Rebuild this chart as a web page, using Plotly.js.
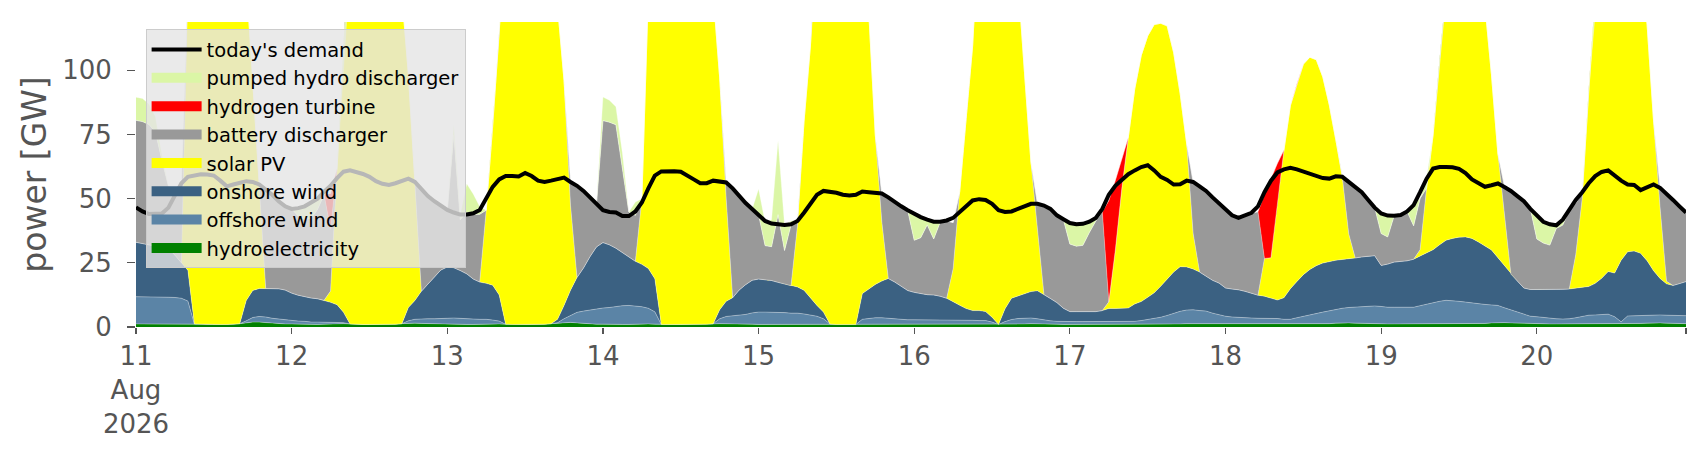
<!DOCTYPE html>
<html>
<head>
<meta charset="utf-8">
<script src="https://cdn.plot.ly/plotly-3.0.1.min.js"></script>
<style>
  html, body { margin: 0; padding: 0; background: #fff; }
  #chart { width: 1706px; height: 460px; }
</style>
</head>
<body>
<div id="chart"></div>
<script>
// hourly dispatch in GW, 11 Aug 2026 00:00 .. 20 Aug 2026 23:00, one row per day

const hydroelectricity = [
  1.2,1.2,1.1,1.1,1.1,1.1,1.2,1.2,1.3,1.2,1.1,1.0,1.0,1.0,1.0,1.1,1.3,1.6,1.9,1.9,1.7,1.5,1.3,1.2,
  1.2,1.1,1.1,1.0,1.0,1.1,1.2,1.3,1.3,1.2,1.0,1.0,1.0,1.0,1.0,1.0,1.1,1.3,1.5,1.5,1.4,1.3,1.2,1.2,
  1.1,1.1,1.0,1.0,1.0,1.1,1.2,1.2,1.2,1.1,1.0,1.0,1.0,1.0,1.0,1.1,1.3,1.5,1.7,1.8,1.6,1.4,1.2,1.1,
  1.1,1.0,1.0,1.0,1.0,1.1,1.2,1.2,1.1,1.0,1.0,1.0,1.0,1.0,1.0,1.0,1.1,1.2,1.3,1.3,1.2,1.2,1.1,1.1,
  1.0,1.0,1.0,1.0,1.0,1.0,1.1,1.1,1.0,1.0,1.0,1.0,1.0,1.0,1.0,1.0,1.1,1.2,1.2,1.2,1.2,1.1,1.1,1.0,
  1.0,1.0,1.0,1.0,1.0,1.0,1.1,1.1,1.1,1.0,1.0,1.0,1.0,1.0,1.0,1.0,1.1,1.2,1.3,1.3,1.2,1.1,1.1,1.0,
  1.0,1.0,1.0,1.0,1.0,1.0,1.1,1.1,1.1,1.0,1.0,1.0,1.0,1.0,1.0,1.0,1.1,1.2,1.3,1.3,1.3,1.2,1.1,1.1,
  1.1,1.1,1.1,1.1,1.1,1.1,1.2,1.2,1.2,1.1,1.1,1.1,1.1,1.1,1.1,1.2,1.3,1.5,1.6,1.6,1.5,1.4,1.3,1.2,
  1.2,1.2,1.2,1.2,1.2,1.2,1.3,1.3,1.3,1.2,1.2,1.2,1.2,1.2,1.2,1.3,1.4,1.6,1.7,1.7,1.6,1.5,1.4,1.3,
  1.3,1.3,1.2,1.2,1.2,1.2,1.3,1.3,1.3,1.2,1.2,1.2,1.2,1.2,1.2,1.3,1.4,1.5,1.6,1.6,1.5,1.4,1.3,1.3
];

const offshoreWind = [
  10.6,10.6,10.6,10.6,10.6,10.5,10.3,10.0,8.8,0,0,0,0,0,0,0,0,0.8,1.8,2.2,2.2,1.9,1.8,1.5,
  1.4,1.2,1.1,0.9,0.9,0.8,0.7,0.6,0.4,0,0,0,0,0,0,0,0,0,0.9,1.5,1.8,1.9,2.0,2.2,
  2.3,2.4,2.3,2.2,2.1,1.9,1.8,1.5,1.1,0,0,0,0,0,0,0,0,0.2,1.5,2.8,4.1,4.8,5.4,6.1,
  6.3,6.6,7.0,7.3,7.4,7.1,6.7,6.1,4.8,0,0,0,0,0,0,0,0,0.1,1.9,2.8,3.2,3.5,3.8,4.4,
  4.8,4.8,4.8,4.7,4.6,4.4,4.3,4.0,3.7,3.2,2.2,0.2,0,0,0,0,1.9,2.2,2.4,2.4,2.2,1.9,1.9,1.8,
  1.8,1.8,1.8,1.7,1.7,1.7,1.6,1.6,1.6,1.6,1.5,1.5,0.9,0,1.1,1.9,2.2,2.2,2.2,1.9,1.5,1.3,1.1,1.1,
  1.1,1.1,1.1,1.1,1.1,1.1,1.1,1.1,1.1,1.1,1.2,1.5,1.9,2.4,2.8,3.5,4.3,4.9,5.3,5.4,5.1,5.0,4.3,3.7,
  3.1,2.8,2.6,2.5,2.4,2.3,2.2,2.2,2.1,1.9,1.9,2.5,3.1,3.6,4.1,4.6,5.0,5.4,5.7,6.0,6.3,6.5,6.8,7.0,
  6.8,6.5,6.5,6.5,6.5,6.5,7.0,7.6,8.4,8.8,9.2,9.1,8.8,8.5,8.1,7.8,7.4,7.0,6.7,5.8,5.0,4.2,3.5,2.9,
  2.7,2.4,2.2,2.0,1.9,2.0,2.3,2.7,3.3,3.5,3.6,3.8,2.8,0.8,3.1,3.1,3.1,3.1,3.1,3.1,3.1,3.1,3.1,3.1
];

const onshoreWind = [
  21.2,20.7,20.2,19.7,19.2,18.9,16.5,13.8,12.0,0,0,0,0,0,0,0,0,7.9,10.5,10.9,11.1,11.6,11.8,11.7,
  10.6,10.1,9.6,9.4,9.1,8.5,7.7,6.8,4.0,0,0,0,0,0,0,0,0,0,5.2,7.3,10.7,13.5,16.4,18.8,
  20.0,19.6,18.7,17.5,15.6,14.5,14.0,13.6,10.2,0,0,0,0,0,0,0,0,1.3,5.2,9.7,13.6,16.8,20.8,24.0,
  25.5,24.4,22.7,20.8,18.8,17.4,16.5,15.5,12.9,0,0,0,0,0,0,0,0,0,3.5,5.9,7.0,9.7,11.6,12.7,
  12.9,12.6,12.3,11.7,11.2,10.7,10.2,9.2,6.5,4.2,2.6,0,0,0,0,0,10.0,11.4,13.0,14.3,15.5,14.5,13.0,11.4,
  10.7,10.2,9.8,9.8,9.3,8.5,7.3,5.8,4.5,3.8,3.9,3.5,1.9,0,5.0,8.3,8.8,9.7,10.3,10.9,10.0,8.7,7.3,5.2,
  3.9,3.9,3.9,3.9,3.9,4.3,5.0,5.0,5.2,5.3,6.8,7.4,8.7,9.9,12.1,14.2,16.0,17.4,16.8,15.9,15.0,13.6,12.8,12.3,
  11.0,10.9,10.8,10.3,9.6,9.0,8.6,7.8,7.2,8.4,11.9,14.1,16.2,17.7,18.7,19.1,19.2,19.1,19.0,18.9,19.1,19.4,19.5,19.6,
  16.0,16.8,17.6,17.8,18.1,18.7,19.3,19.7,20.4,22.0,23.4,24.2,25.0,25.4,25.2,24.0,22.9,21.4,18.6,16.5,14.0,12.2,10.3,10.4,
  10.6,10.9,11.1,11.4,11.6,11.6,11.6,11.6,11.2,12.3,14.2,16.6,17.0,24.0,25.0,25.2,24.2,21.2,17.2,14.2,12.2,11.7,12.5,13.3
];

const solarPV = [
  0,0,0,0,0,0,0,0,110,180,230,260,270,260,230,190,160,125,83,40,0,0,0,0,
  0,0,0,0,0,0,4.4,53,104,165,215,245,255,245,220,185,150,128,90.7,46.7,0,0,0,0,
  0,0,0,0,0,0,28.5,62,101,165,215,250,262,255,235,200,165,122,87.7,33,0,0,0,0,
  0,0,0,0,0,0,25.6,107,165,230,260,280,285,275,250,210,165,128,90.4,40.1,0,0,0,0,
  0,0,0,0,0,0,24,65.6,98.6,150,200,235,250,240,215,185,147,107,58,23,0,0,0,0,
  0,0,0,0,0,0,12.7,44,74,103,150,185,200,195,180,155,123,86,50.3,24,0,0,0,0,
  0,0,0,0,0,0,2.6,22.7,46.5,66.4,83.8,95.9,101.8,104.5,102.4,98.6,85.5,67.5,48.2,13.9,0,0,0,0,
  0,0,0,0,0,0,14.7,15.8,38.3,57.5,71.4,77,82,82.7,80.2,72.5,61,47,32,9.7,0,0,0,0,
  0,0,0,0,0,0,2.5,25.5,44.7,72.5,106,135.5,150,150,135,117,93.5,68.4,40.5,20.1,0,0,0,0,
  0,0,0,0,0,0,13,34.5,77,113,150,180,190,180,160,135,111.5,92,58.4,27.7,1,0,0,0
];

const batteryDischarger = [
  47.5,47.5,47.0,44.5,34.0,24.4,26.0,31.0,0,0,0,0,0,0,0,0,0,0,0,1,39.0,36.8,34.2,32.6,
  32.8,30.8,30.1,31.0,34.8,41.2,24.0,0,0,0,0,0,0,0,0,0,0,0,0,0,39.8,34.4,29.4,25.1,
  22.1,51.8,19.8,24.1,25.1,26.4,0,0,0,0,0,0,0,0,0,0,0,0,0,9.8,36.1,30.2,23.1,16.7,
  47.5,47.8,48.1,32.7,17.6,17.9,0,0,0,0,0,0,0,0,0,0,0,0,0,6.3,42.6,36.6,31.7,27.7,
  25.1,13.3,13.2,26.4,13.0,23.7,2,0,0,0,0,0,0,0,0,0,0,0,0,11,31.6,30.9,30.9,31.1,
  20.3,21.8,27.2,21.8,28.8,30.1,18,0,0,0,0,0,0,0,0,0,0,0,0,10,34.6,34.8,33.9,34.5,
  26.3,25.5,25.8,30.8,35.3,38.4,0,0,0,0,0,0,0,0,0,0,0,0,0,20.1,33.5,33.2,32.2,30.8,
  30.2,28.6,27.9,29.5,31.3,32.5,0,0,0,0,0,0,0,0,0,0,0,0,0.7,20.7,27.9,25.4,22.0,18.7,
  12.4,10.6,18,18.1,19.2,13,20,0,0,0,0,0,0,0,0,0,0,0,0,10.9,32.8,33.4,34,31.5,
  19.7,18.1,17.4,23.8,25,30.7,20,2,0,0,0,0,0,0,0,0,0,0,0,8,34.5,33.5,30.2,27
];

const hydrogenTurbine = [
  0,0,0,0,0,0,0,0,0,0,0,0,0,0,0,0,0,0,0,0,0,0,0,0,
  0,0,0,0,0,0,14,0,0,0,0,0,0,0,0,0,0,0,0,0,0,0,0,0,
  0,0,0,0,0,0,0,0,0,0,0,0,0,0,0,0,0,0,0,0,0,0,0,0,
  0,0,0,0,0,0,0,0,0,0,0,0,0,0,0,0,0,0,0,0,0,0,0,0,
  0,0,0,0,0,0,0,0,0,0,0,0,0,0,0,0,0,0,0,0,0,0,0,0,
  0,0,0,0,0,0,0,0,0,0,0,0,0,0,0,0,0,0,0,0,0,0,0,0,
  0,0,0,0,0,0,39.5,27.2,11.6,0,0,0,0,0,0,0,0,0,0,0,0,0,0,0,
  0,0,0,0,0,0,25.1,30.8,15,0,0,0,0,0,0,0,0,0,0,0,0,0,0,0,
  0,0,0,0,0,0,0,0,0,0,0,0,0,0,0,0,0,0,0,0,0,0,0,0,
  0,0,0,0,0,0,0,0,0,0,0,0,0,0,0,0,0,0,0,0,0,0,0,0
];

const pumpedHydroDischarger = [
  9,9,8,6,2,0,0,0,0,0,0,0,0,0,0,0,0,0,0,0,0,0,0,0,
  0,3,5,6,4,1,0,0,0,0,0,0,0,0,0,0,0,0,0,0,0,0,0,0,
  0,4,2,11,8,3,0,0,0,0,0,0,0,0,0,0,0,0,0,0,0,0,0,0,
  9.2,8.5,7,6,0,5.2,0,0,0,0,0,0,0,0,0,0,0,0,0,0,0,0,0,0,
  10,9.1,10.5,28.8,10,1.5,0,0,0,0,0,0,0,0,0,0,0,0,0,0,0,0,0,0,
  10,7.8,1.8,6.5,0,0,0,0,0,0,0,0,0,0,0,0,0,0,0,0,0,0,0,0,
  8,8.3,8.2,4,1,0,0,0,0,0,0,0,0,0,0,0,0,0,0,0,0,0,0,0,
  0,0,0,0,0,0,0,0,0,0,0,0,0,0,0,0,0,0,0,0,0,0,0,0,
  7.8,8.3,0,0,0,8.1,0,4,0,0,0,0,0,0,0,0,0,0,0,0,0,0,0,0,
  9.3,8.4,8.1,1.2,2.1,0,0,0,0,0,0,0,0,0,0,0,0,0,0,0,0,0,0,0
];

const demand = [
  46.6,45,44,44,44.2,46.5,51,56,58.5,59.2,59.5,59.4,59,57,54.8,55.5,56.3,56.8,56.5,55.5,53.5,51.5,49,47,
  46,46.3,47,48.5,50,52.7,55,58,60.5,61,60.5,59.6,58.5,56.8,55.8,55.3,56,57,57.8,56.5,53.5,51,49,47.3,
  45.6,44.6,43.8,43.8,44.3,45.6,50.5,54.6,57.5,58.8,58.8,58.6,60,58.8,57,56.5,57,57.8,58.2,56.5,55,53,50.5,48,
  45.5,44.8,44.6,43.2,43.2,45,48.5,54,59,60.6,60.7,60.7,60.5,59.2,57.5,56,56,57,56.8,56.3,54,51,48.3,46,
  43.5,41.3,40.3,40,39.7,40,41.3,44.5,48,51.5,53,52.8,52.3,51.5,51.2,51.5,52.8,52.5,52.3,52,50.5,48.5,47,45.5,
  44,42.8,41.8,41,41,41.5,42.5,44.5,47,49.3,49.8,49.5,48,45.5,44.8,45,46,47,48,48,47.3,46,43.5,42,
  40.5,40,40.2,41,42.5,46,51.5,55,57.5,59.5,61,62.3,63,61,58.5,57.3,55.5,55.6,57,56.5,54.8,53,50.5,48,
  45.5,43.5,42.5,43.5,44.5,47,52.5,57,60.2,61.4,62,61.4,60.5,59.4,58.8,58,57.8,58.7,58.5,56.5,54.5,52.5,49.5,46.5,
  44.2,43.4,43.3,43.6,45,47.5,52.5,57.8,61.7,62.3,62.3,62.2,61.6,60,57.5,56,54.6,55.2,55.9,54.5,53,51,49,46,
  43.5,41,40,39.6,41.8,45.5,49.5,52.5,56,58.8,60.4,61,58.8,57,55.5,55.3,53.3,54.2,55.5,54.2,52,49.5,47,44.6
];

const dayTicks = ['2026-08-11', '2026-08-12', '2026-08-13', '2026-08-14', '2026-08-15',
                  '2026-08-16', '2026-08-17', '2026-08-18', '2026-08-19', '2026-08-20', '2026-08-20 23:00'];
const dayLabels = ['11<br>Aug<br>2026', '12', '13', '14', '15', '16', '17', '18', '19', '20', ''];

// hourly timestamps
const start = Date.UTC(2026, 7, 11);
const hours = [];
for (let i = 0; i < demand.length; i++) {
    const d = new Date(start + i * 3600e3);
    hours.push(d.toISOString().slice(0, 13).replace('T', ' ') + ':00');
}

// bottom to top of the stack; rank is the legend position
const carriers = [
    {name: 'hydroelectricity', y: hydroelectricity, color: '#008000', rank: 8},
    {name: 'offshore wind', y: offshoreWind, color: '#5b84a6', rank: 7},
    {name: 'onshore wind', y: onshoreWind, color: '#3b6182', rank: 6},
    {name: 'solar PV', y: solarPV, color: '#ffff00', rank: 5},
    {name: 'battery discharger', y: batteryDischarger, color: '#999999', rank: 4},
    {name: 'hydrogen turbine', y: hydrogenTurbine, color: '#ff0000', rank: 3},
    {name: 'pumped hydro discharger', y: pumpedHydroDischarger, color: '#dbf6a6', rank: 2},
];

const traces = [];
for (let c of carriers) {
    traces.push({
        x: hours, y: c.y, type: 'scatter', mode: 'lines',
        stackgroup: 'supply', fillcolor: c.color,
        line: {width: 0.6, color: 'rgba(255,255,255,0.55)'},
        showlegend: false, hoverinfo: 'skip'
    });
}
// legend swatches only
for (let c of carriers) {
    traces.push({
        x: [null], y: [null], type: 'scatter', mode: 'lines',
        name: c.name, legendrank: c.rank,
        line: {width: 13, color: c.color}
    });
}
traces.push({
    x: hours, y: demand, type: 'scatter', mode: 'lines',
    name: "today's demand", legendrank: 1,
    line: {width: 4, color: '#000000'}
});

const layout = {
    width: 1706, height: 460,
    margin: {l: 136, r: 20, t: 22, b: 133},
    paper_bgcolor: '#ffffff', plot_bgcolor: '#ffffff',
    font: {family: 'DejaVu Sans, sans-serif', color: '#555555', size: 26},
    showlegend: true,
    legend: {
        x: 0.0062, y: 0.976, xanchor: 'left', yanchor: 'top',
        traceorder: 'normal',
        bgcolor: 'rgba(229,229,229,0.8)', bordercolor: '#cccccc', borderwidth: 1,
        font: {size: 19.5, color: '#000000'}, itemwidth: 50
    },
    xaxis: {
        type: 'date', range: [hours[0], hours[hours.length - 1]],
        tickmode: 'array', tickvals: dayTicks, ticktext: dayLabels,
        ticks: 'outside', ticklen: 6, tickwidth: 1.2, tickcolor: '#555555',
        showgrid: false, zeroline: false, showline: false,
        tickfont: {size: 26, color: '#555555'}
    },
    yaxis: {
        range: [0, 118.8], tickmode: 'array', tickvals: [0, 25, 50, 75, 100],
        ticks: 'outside', ticklen: 8, tickwidth: 1.2, tickcolor: '#555555',
        showgrid: false, zeroline: false, showline: false,
        tickfont: {size: 26, color: '#555555'},
        ticklabelstandoff: 10,
        title: {text: 'power [GW]', font: {size: 33, color: '#555555'}, standoff: 5}
    }
};

Plotly.newPlot('chart', traces, layout, {displayModeBar: false, staticPlot: true});
</script>
</body>
</html>
